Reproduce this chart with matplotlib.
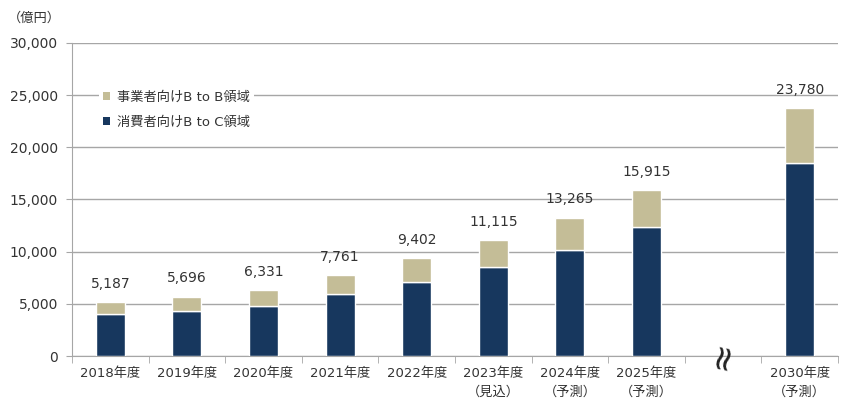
import matplotlib
matplotlib.use("Agg")
import matplotlib.pyplot as plt
from matplotlib.patches import Patch

years = ["2018年度", "2019年度", "2020年度", "2021年度", "2022年度",
         "2023年度", "2024年度", "2025年度", "2030年度"]
notes = ["", "", "", "", "", "（見込）", "（予測）", "（予測）", "（予測）"]
positions = [0, 1, 2, 3, 4, 5, 6, 7, 9]
totals = [5187, 5696, 6331, 7761, 9402, 11115, 13265, 15915, 23780]
b2c = [4000, 4300, 4800, 5900, 7100, 8500, 10200, 12400, 18500]
b2b = [t - c for t, c in zip(totals, b2c)]
yticks = [0, 5000, 10000, 15000, 20000, 25000, 30000]

NAVY = "#17375E"
TAN = "#C4BD97"
GRID = "#A6A6A6"
FONT = ["DejaVu Sans", "Noto Sans CJK JP"]
plt.rcParams["font.family"] = FONT

fig = plt.figure(figsize=(8.5, 4.2), dpi=100)
ax = fig.add_axes([72/850, 1-356/420, (838-72)/850, (356-43)/420])

w = 0.38
ax.bar(positions, b2c, width=w, color=NAVY, edgecolor="white", linewidth=1, zorder=3)
ax.bar(positions, b2b, bottom=b2c, width=w, color=TAN, edgecolor="white", linewidth=1, zorder=3)

for x, t in zip(positions, totals):
    ax.annotate(f"{t:,}", (x, t), xytext=(0, 8), textcoords="offset points",
                ha="center", va="bottom", fontsize=10, color="#333333")

ax.set_xlim(-0.5, 9.5)
ax.set_ylim(0, 30000)
ax.set_yticks(yticks)
ax.set_yticklabels([f"{v:,}" for v in yticks], fontsize=10, color="#333333")
ax.yaxis.grid(True, color=GRID, linewidth=1, zorder=0)
ax.tick_params(axis="y", length=4, color=GRID, pad=6)

ax.set_xticks(positions)
ax.set_xticklabels([y + ("\n" + n if n else "") for y, n in zip(years, notes)],
                   fontsize=9.5, color="#333333", linespacing=1.6)
ax.set_xticks([i - 0.5 for i in range(11)], minor=True)
ax.tick_params(axis="x", which="major", length=0, pad=8)
ax.tick_params(axis="x", which="minor", length=5, color=GRID)

for s in ["top", "right"]:
    ax.spines[s].set_visible(False)
ax.spines["left"].set_color(GRID)
ax.spines["bottom"].set_color(GRID)

# axis break mark
ax.text(8, 0, "≈", rotation=78, ha="center", va="center", fontsize=25,
        color="#222222", zorder=5, clip_on=False)

fig.text(8/850, 1-18/420, "（億円）", fontsize=9.5, color="#333333", va="center", ha="left")

handles = [Patch(facecolor=TAN, edgecolor="none"), Patch(facecolor=NAVY, edgecolor="none")]
leg = ax.legend(handles, ["事業者向けB to B領域", "消費者向けB to C領域"],
                loc="upper left", bbox_to_anchor=(92/850, 1-80/420),
                bbox_transform=fig.transFigure, frameon=True, fontsize=9.5,
                handlelength=0.6, handleheight=0.6, handletextpad=0.5,
                labelspacing=0.9, borderpad=0.3)
leg.get_frame().set_edgecolor("none")
leg.get_frame().set_facecolor("white")
leg.get_frame().set_alpha(1)
for t in leg.get_texts():
    t.set_color("#333333")

fig.savefig("out.png", dpi=100)
